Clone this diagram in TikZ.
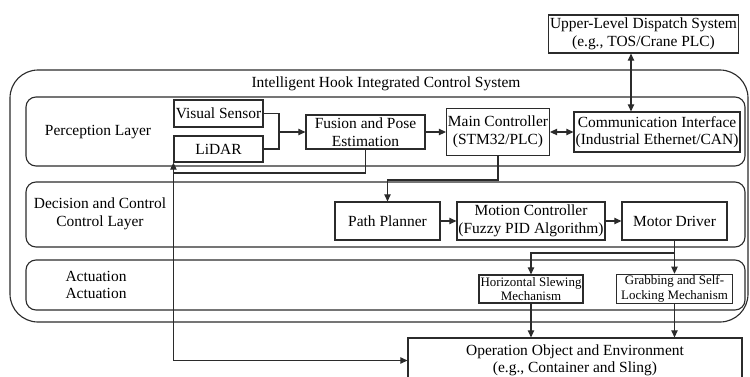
\documentclass[tikz,border=0pt]{standalone}
\usepackage{fontspec}
\setmainfont{Liberation Serif}
\usetikzlibrary{positioning, arrows.meta, calc}
\definecolor{linecolor}{HTML}{2B2B2B}

\begin{document}
\begin{tikzpicture}[
    x=0.025cm, y=-0.025cm,
    % Node styles
    blocknode/.style={
        rectangle, draw=linecolor, line width=0.8pt,
        inner sep=1pt, align=center,
        font=\fontsize{11}{12.5}\selectfont
    },
    mechnode/.style={
        blocknode, font=\fontsize{9.2}{10.4}\selectfont
    },
    layerbox/.style={
        draw=linecolor, line width=0.8pt, rounded corners=0.25cm
    },
    % Edge styles
    flowedge/.style={
        ->, >={Triangle[length=5pt,width=4.5pt]}, line width=0.8pt, linecolor
    },
    biedge/.style={
        <->, >={Triangle[length=5pt,width=4.5pt]}, line width=0.8pt, linecolor
    },
    plainedge/.style={
        line width=0.8pt, linecolor
    },
    % Label styles
    layerlabel/.style={
        font=\fontsize{11}{12.5}\selectfont, align=center
    }
]
\useasboundingbox (0,0) rectangle (750,376);

% ============ SYSTEM FRAME ============
\draw[layerbox, rounded corners=0.7cm] (10,70) rectangle (748,322);
\node[layerlabel] (title) at (386,84) {Intelligent Hook Integrated Control System};

\draw[layerbox] (26,97) rectangle (745,166);
\draw[layerbox] (26,182) rectangle (745,247);
\draw[layerbox] (26,260) rectangle (745,310);

\node[layerlabel] (perclabel) at (98,132) {Perception Layer};
\node[layerlabel] (declabel) at (100,214) {Decision and Control\\Control Layer};
\node[layerlabel] (actlabel) at (96,285) {Actuation\\Actuation};

% ============ PERCEPTION LAYER ============
\node[blocknode, minimum width=89*0.025cm, minimum height=27*0.025cm] (vis) at (218.5,113.5) {Visual Sensor};
\node[blocknode, minimum width=89*0.025cm, minimum height=26*0.025cm] (lidar) at (218.5,149) {LiDAR};
\node[blocknode, minimum width=119*0.025cm, minimum height=34*0.025cm] (fusion) at (365.5,132) {Fusion and Pose\\Estimation};
\node[blocknode, minimum width=98*0.025cm, minimum height=47*0.025cm] (main) at (498,132) {Main Controller\\(STM32/PLC)};
\node[blocknode, minimum width=166*0.025cm, minimum height=40*0.025cm] (comm) at (657,132) {Communication Interface\\(Industrial Ethernet/CAN)};

% upper level system
\node[blocknode, minimum width=187*0.025cm, minimum height=38*0.025cm] (upper) at (643.5,34) {Upper-Level Dispatch System\\(e.g., TOS/Crane PLC)};

% ============ DECISION AND CONTROL LAYER ============
\node[blocknode, minimum width=105*0.025cm, minimum height=38*0.025cm] (path) at (387.5,221) {Path Planner};
\node[blocknode, minimum width=134*0.025cm, minimum height=38*0.025cm] (motion) at (531,221) {Motion Controller\\(Fuzzy PID Algorithm)};
\node[blocknode, minimum width=105*0.025cm, minimum height=38*0.025cm] (motor) at (674.5,221) {Motor Driver};

% ============ ACTUATION LAYER ============
\node[mechnode, minimum width=104*0.025cm, minimum height=28*0.025cm] (horiz) at (531,289) {Horizontal Slewing\\Mechanism};
\node[mechnode, minimum width=116*0.025cm, minimum height=28*0.025cm] (grab) at (674.5,289) {Grabbing and Self-\\Locking Mechanism};

% ============ ENVIRONMENT ============
\node[blocknode, minimum width=334*0.025cm, minimum height=45*0.025cm] (op) at (575,360.5) {Operation Object and Environment\\(e.g., Container and Sling)};

% ============ EDGES ============
% Sensors to fusion
\coordinate (sensjoin) at (279,132);
\draw[plainedge] (vis.east) -| (sensjoin);
\draw[plainedge] (lidar.east) -| (sensjoin);
\draw[flowedge] (sensjoin) -- (fusion.west);

% Fusion to controller to interface
\draw[flowedge] (fusion.east) -- (main.west);
\draw[biedge] (main.east) -- (comm.west);
\draw[biedge] ([xshift=-0.3125cm]upper.south) -- ([xshift=-0.3125cm]upper.south |- comm.north);

% Controller down to planner
\coordinate (mainbend) at (498,180);
\draw[flowedge] (main.south) -- (mainbend) -| (path.north);
\draw[flowedge] (path.east) -- (motion.west);
\draw[flowedge] (motion.east) -- (motor.west);

% Driver to mechanisms
\coordinate (drvsplit) at (674.5,253);
\draw[flowedge] (motor.south) -- (grab.north);
\draw[flowedge] (drvsplit) -| (horiz.north);

% Mechanisms to environment
\draw[flowedge] (horiz.south) -- (horiz.south |- op.north);
\draw[flowedge] (grab.south) -- (grab.south |- op.north);

% Feedback loop
\coordinate (fusbend) at (174,173);
\draw[biedge] (lidar.south west) -- (lidar.south west |- op.west) -- (op.west);
\draw[plainedge] (fusion.south) |- (fusbend);

\end{tikzpicture}
\end{document}
